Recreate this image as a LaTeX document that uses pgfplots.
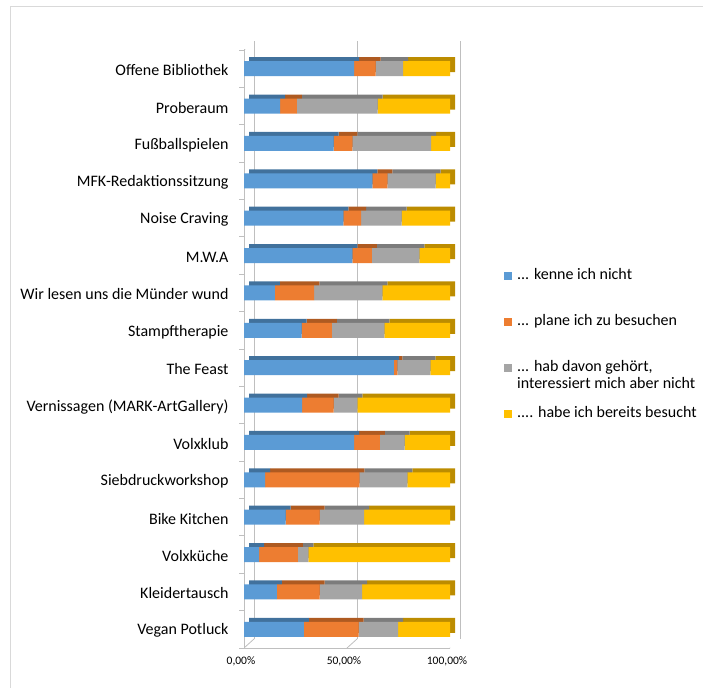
\documentclass[border=0pt]{standalone}
\usepackage{pgfplots}
\usepackage{pgfplotstable}
\usepackage{fontspec}
\setmainfont{Carlito}
\pgfplotsset{compat=1.18}

\definecolor{cblue}{HTML}{5B9BD5}
\definecolor{corange}{HTML}{ED7D31}
\definecolor{cgray}{HTML}{A5A5A5}
\definecolor{cyellow}{HTML}{FFC000}
\definecolor{dblue}{HTML}{41719C}
\definecolor{dorange}{HTML}{AE5A21}
\definecolor{dgray}{HTML}{7C7C7C}
\definecolor{dyellow}{HTML}{BC8C00}
\definecolor{frame}{HTML}{D9D9D9}
\definecolor{axisgray}{HTML}{BFBFBF}

% shares in percent, 0 = Vegan Potluck (bottom) ... 15 = Offene Bibliothek (top)
\pgfplotstableread{
idx kennt plant gehoert besucht
0   29.1  26.6  19.1  25.2
1   16.0  20.7  20.6  42.7
2    7.4  18.8   5.0  68.8
3   20.2  16.5  21.6  41.7
4   10.2  45.8  23.3  20.7
5   53.4  12.5  12.1  22.0
6   28.2  15.3  11.5  45.0
7   72.8   1.6  16.1   9.5
8   28.0  14.7  25.4  31.9
9   15.0  19.1  33.1  32.8
10  52.6   9.5  23.0  14.9
11  48.2   8.6  19.7  23.5
12  62.3   7.3  23.4   7.0
13  43.5   9.1  38.2   9.2
14  17.5   8.2  39.2  35.1
15  53.4  10.5  13.4  22.7
}\data

\pgfplotsset{
  geom/.style={scale only axis, width=206pt, height=598pt,
    xmin=0, xmax=100, ymin=-0.5, ymax=15.5, anchor=south west},
  bars/.style={xbar stacked, bar width=15pt},
}

\begin{document}
\begin{tikzpicture}
\useasboundingbox (0pt,0pt) rectangle (703pt,687pt);
\draw[frame, line width=1pt] (10.5pt,-10pt) -- (10.5pt,680pt) -- (720pt,680pt);

% back wall with gridlines
\begin{axis}[geom, at={(254pt,48pt)}, axis line style={draw=none},
  xtick={0,50,100}, xticklabels={}, ytick=\empty, major tick length=0pt,
  xmajorgrids, grid style={axisgray, line width=0.8pt}]
\addplot[draw=none, forget plot] coordinates {(0,0) (100,15)};
\end{axis}

% depth of the bars
\begin{axis}[geom, bars, at={(249pt,43pt)}, hide axis]
\addplot[fill=dblue, draw=none] table[x=kennt, y=idx] {\data};
\addplot[fill=dorange, draw=none] table[x=plant, y=idx] {\data};
\addplot[fill=dgray, draw=none] table[x=gehoert, y=idx] {\data};
\addplot[fill=dyellow, draw=none] table[x=besucht, y=idx] {\data};
\end{axis}

% front
\begin{axis}[geom, bars, at={(244pt,39pt)},
  axis x line*=bottom, axis y line*=left,
  axis line style={axisgray, line width=0.8pt},
  xtick={0,50,100}, xticklabels={{0,00\%},{50,00\%},{100,00\%}},
  xtick style={draw=none},
  xticklabel style={font=\fontsize{11.5}{13}\selectfont, yshift=-5pt, xshift=-3pt},
  ytick={0,...,15},
  yticklabels={Vegan Potluck, Kleidertausch, Volxküche, Bike Kitchen,
    Siebdruckworkshop, Volxklub, Vernissagen (MARK-ArtGallery), The Feast,
    Stampftherapie, Wir lesen uns die Münder wund, M.W.A, Noise Craving,
    MFK-Redaktionssitzung, Fußballspielen, Proberaum, Offene Bibliothek},
  yticklabel style={font=\fontsize{16}{19}\selectfont, xshift=-12pt, yshift=-1.5pt},
  minor ytick={-0.5,0.5,...,15.5},
  major tick length=0pt, minor tick length=5pt, tick align=outside,
  ytick style={axisgray, line width=0.8pt},
  legend image code/.code={\fill[#1] (0pt,0pt) rectangle (8pt,7.5pt);},
  legend style={draw=none, fill=none, inner sep=0pt,
    at={(axis cs:126.2,9.70)}, anchor=north west,
    font=\fontsize{16}{19}\selectfont,
    row sep=28pt, column sep=2pt,
    nodes={text height=11pt, text depth=3pt, inner xsep=3pt},
    cells={anchor=base west}},
]
\addplot[fill=cblue, draw=none] table[x=kennt, y=idx] {\data};
\addlegendentry{... kenne ich nicht}
\addplot[fill=corange, draw=none] table[x=plant, y=idx] {\data};
\addlegendentry{... plane ich zu besuchen}
\addplot[fill=cgray, draw=none] table[x=gehoert, y=idx] {\data};
\addlegendentry{\makebox[0pt][l]{\raisebox{-17pt}[0pt][0pt]{interessiert mich aber nicht}}... hab davon gehört,}
\addplot[fill=cyellow, draw=none] table[x=besucht, y=idx] {\data};
\addlegendentry{.... habe ich bereits besucht}
\draw[axisgray, line width=0.8pt] (axis cs:0,15.5) -- ++(10pt,9pt);
\draw[axisgray, line width=0.8pt] (axis cs:0,-0.5) -- ++(10pt,9pt);
\draw[axisgray, line width=0.8pt] (axis cs:50,-0.5) -- ++(10pt,9pt);
\draw[axisgray, line width=0.8pt] (axis cs:100,-0.5) -- ++(10pt,9pt);
\end{axis}
\end{tikzpicture}
\end{document}
